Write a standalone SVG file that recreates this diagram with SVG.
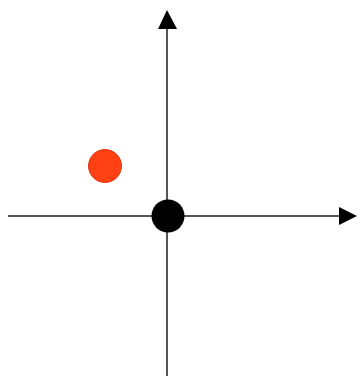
<svg xmlns="http://www.w3.org/2000/svg" width="358" height="376" viewBox="0 0 358 376">
<style>
.axis{stroke:#555;stroke-width:2;fill:none}
.head{fill:#000}
</style>
<rect width="358" height="376" fill="#fff"/>
<g id="connectors">
<line class="axis" x1="167" y1="26" x2="167" y2="376"/>
<line class="axis" x1="8" y1="216" x2="342" y2="216"/>
<polygon class="head" points="167,10 158,29 177,29"/>
<polygon class="head" points="357,216 339,207 339,225"/>
</g>
<g id="origin"><circle cx="168" cy="216" r="16.5" fill="#000"/></g>
<g id="point"><circle cx="105" cy="166" r="16.5" fill="#ff4012" stroke="#e23a12" stroke-width="1"/></g>
</svg>
